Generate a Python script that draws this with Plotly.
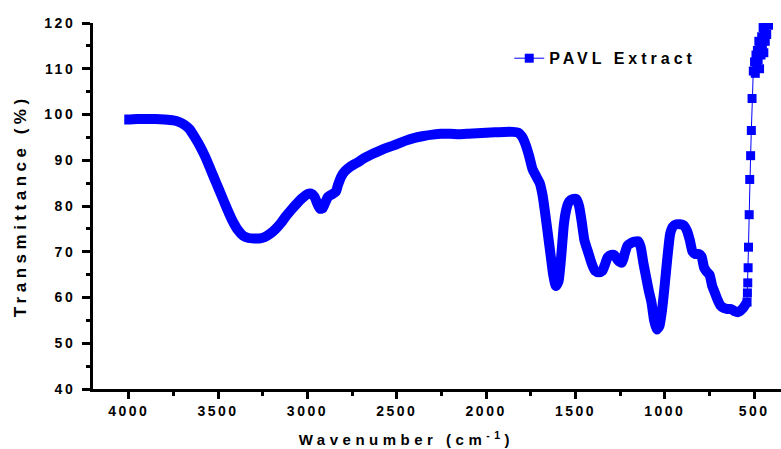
import plotly.graph_objects as go

# Dense part of the spectrum (wavenumber cm^-1, transmittance %)
wn_dense = [4025, 4000, 3950, 3900, 3850, 3800, 3750, 3720, 3690, 3660, 3630, 3600, 3570, 3540, 3510,
            3480, 3450, 3420, 3390, 3360, 3330, 3300, 3270, 3240, 3210, 3180, 3150, 3120, 3090,
            3060, 3030, 3000, 2980, 2960, 2945, 2930, 2915, 2900, 2885, 2860, 2840, 2830, 2810,
            2790, 2760, 2720, 2680, 2640, 2600, 2550, 2500, 2450, 2400, 2350, 2300, 2250, 2200,
            2150, 2100, 2050, 2000, 1950, 1900, 1850, 1820, 1800, 1780, 1760, 1740, 1720, 1700,
            1685, 1670, 1655, 1640, 1625, 1610, 1595, 1580, 1565, 1550, 1535, 1515, 1495, 1480,
            1465, 1450, 1430, 1410, 1390, 1370, 1350, 1335, 1320, 1300, 1280, 1260, 1240, 1225,
            1210, 1190, 1170, 1150, 1135, 1120, 1105, 1090, 1075, 1060, 1045, 1030, 1015, 1000,
            985, 970, 955, 935, 915, 895, 875, 860, 845, 830, 810, 795, 780, 765, 750, 735, 720,
            705, 690, 670, 650, 630, 610, 590, 575, 560, 548, 540]
tr_dense = [98.9, 98.9, 99.0, 99.0, 99.0, 98.9, 98.7, 98.4, 97.8, 96.8, 95.0, 93.0, 90.6, 87.8, 85.0,
            82.2, 79.4, 76.8, 74.8, 73.5, 73.0, 72.9, 72.9, 73.2, 73.9, 74.9, 76.2, 77.8, 79.2,
            80.5, 81.7, 82.6, 82.7, 82.0, 80.5, 79.4, 79.5, 80.8, 82.0, 82.6, 83.2, 84.5, 86.5,
            87.6, 88.6, 89.5, 90.5, 91.3, 92.0, 92.8, 93.5, 94.3, 94.9, 95.3, 95.6, 95.8, 95.8,
            95.7, 95.8, 95.9, 96.0, 96.1, 96.2, 96.2, 96.0, 95.2, 93.5, 91.0, 88.0, 86.5, 85.0,
            82.5, 78.5, 74.0, 69.5, 65.0, 62.5, 63.5, 69.0, 76.0, 79.5, 81.0, 81.5, 81.5, 80.0,
            76.5, 72.5, 70.0, 67.5, 65.8, 65.5, 65.8, 67.2, 68.8, 69.3, 69.2, 68.0, 67.6, 69.5,
            71.3, 71.9, 72.2, 72.3, 71.0, 67.5, 64.5, 61.5, 59.0, 55.0, 53.0, 53.8, 57.5, 63.0,
            69.0, 74.0, 75.5, 76.0, 76.0, 75.8, 74.5, 72.5, 70.0, 69.5, 69.5, 69.0, 66.5, 65.6,
            65.0, 62.5, 61.0, 59.5, 58.3, 57.7, 57.5, 57.5, 57.0, 56.8, 57.2, 57.8, 58.5, 59.0]

# Sparse tail (individual markers visible)
wn_tail = [540, 538, 536, 534, 532, 528, 525, 520, 516, 512, 505, 498, 494, 490, 486, 482, 478,
           474, 470, 466, 462, 458, 454, 450, 446, 442, 438, 434, 430, 426, 420, 414, 408, 402]
tr_tail = [59.0, 61.0, 63.2, 66.5, 71.0, 78.1, 85.8, 91.0, 96.5, 103.5, 109.5, 111.5, 109.0,
           113.0, 110.5, 114.0, 112.0, 116.0, 110.0, 115.0, 113.0, 117.0, 115.0, 119.0, 113.5,
           118.0, 116.0, 120.5, 117.5, 121.0, 119.5, 122.0, 121.0, 123.0]

x_ticks = [4000, 3500, 3000, 2500, 2000, 1500, 1000, 500]
y_ticks = [40, 50, 60, 70, 80, 90, 100, 110, 120]
series_name = "PAVL Extract"
x_title = "Wavenumber (cm<sup>-1</sup>)"
y_title = "Transmittance (%)"

BLUE = "#0000FF"
FONT = "Liberation Sans, Arial, sans-serif"

fig = go.Figure()
fig.add_trace(go.Scatter(x=wn_dense, y=tr_dense, mode="lines",
                         line=dict(color=BLUE, width=10, shape="spline", smoothing=0.5),
                         showlegend=False, hoverinfo="skip"))
fig.add_trace(go.Scatter(x=wn_tail, y=tr_tail, mode="lines+markers", name=series_name,
                         line=dict(color=BLUE, width=1),
                         marker=dict(symbol="square", size=9, color=BLUE)))

axis_common = dict(showline=True, linecolor="black", linewidth=3, showgrid=False,
                   zeroline=False, ticks="outside", tickcolor="black", tickwidth=3,
                   tickfont=dict(family=FONT, size=14, color="black", weight="bold"),
                   mirror=False)

fig.update_xaxes(range=[4200, 350], tickvals=x_ticks, ticktext=[str(v) for v in x_ticks],
                 ticklen=7,
                 minor=dict(ticks="outside", dtick=250, tick0=0, ticklen=4, tickwidth=3,
                            tickcolor="black"),
                 **axis_common)
fig.update_yaxes(range=[40, 120], tickvals=y_ticks, ticktext=[str(v) for v in y_ticks],
                 ticklen=8, ticklabelstandoff=4,
                 minor=dict(ticks="outside", dtick=5, tick0=0, ticklen=4, tickwidth=3,
                            tickcolor="black"),
                 **axis_common)

fig.add_annotation(text=x_title, xref="paper", yref="paper", x=0.455, y=-0.134,
                   showarrow=False, xanchor="center", yanchor="middle",
                   font=dict(family=FONT, size=15, color="black", weight="bold"))
fig.add_annotation(text=y_title, xref="paper", yref="paper", x=-0.106, y=0.5,
                   showarrow=False, textangle=-90, xanchor="center", yanchor="middle",
                   font=dict(family=FONT, size=17, color="black", weight="bold"))

fig.update_layout(
    width=781, height=449,
    margin=dict(l=93, r=0, t=23, b=60, pad=0),
    paper_bgcolor="white", plot_bgcolor="white",
    legend=dict(x=0.605, y=0.95, xanchor="left", yanchor="top",
                bgcolor="rgba(0,0,0,0)",
                font=dict(family=FONT, size=16, color="black", weight="bold")),
)

post = """
document.querySelectorAll('.xtick text, .ytick text').forEach(function(e){e.style.letterSpacing='2.5px';});
document.querySelectorAll('.legendtext').forEach(function(e){e.style.letterSpacing='4px';});
document.querySelectorAll('.legend [clip-path]').forEach(function(e){e.removeAttribute('clip-path');});
document.querySelectorAll('.legend').forEach(function(e){e.removeAttribute('clip-path');});
document.querySelectorAll('.annotation-text').forEach(function(e){e.style.letterSpacing='4.5px';});
"""
fig.write_html("out.html", post_script=post)
